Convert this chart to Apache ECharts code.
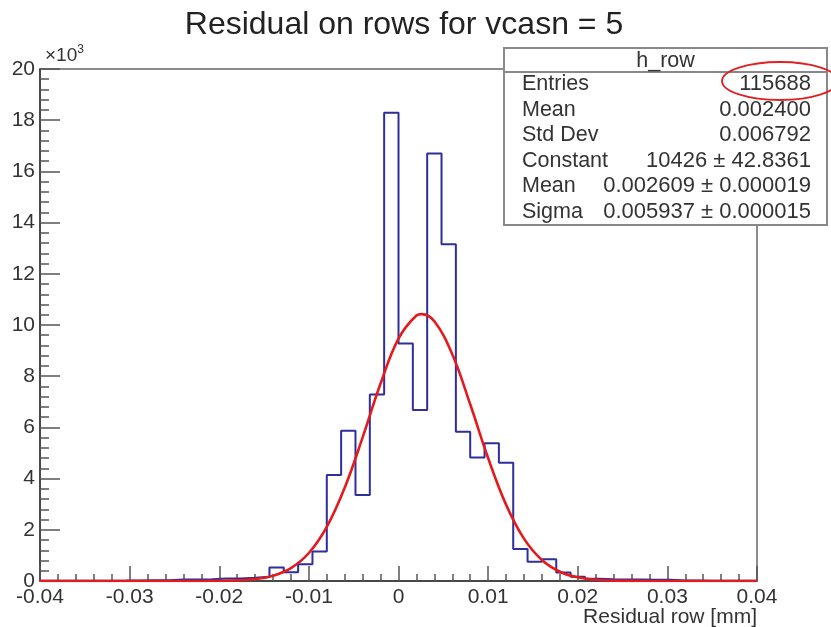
<!DOCTYPE html>
<html>
<head>
<meta charset="utf-8">
<script src="https://cdn.jsdelivr.net/npm/echarts@6/dist/echarts.min.js"></script>
<style>
html,body{margin:0;padding:0;background:#fff;}
#chart{width:831px;height:627px;}
</style>
</head>
<body>
<div id="chart"></div>
<script>
// ---- data ----
const binStart = -0.04;
const binWidth = 0.0016;
const binCounts = [5, 8, 10, 10, 12, 15, 20, 25, 30, 60,
  60, 70, 100, 100, 130, 170, 530, 340, 650, 1150,
  4140, 5870, 3360, 7290, 18290, 9280, 6680, 16700, 13150, 5830,
  4820, 5380, 4620, 1250, 750, 850, 330, 170, 90, 70,
  60, 60, 50, 50, 20, 15, 10, 10, 8, 5];
const fitX = [-0.04, -0.03, -0.024, -0.022, -0.02, -0.018, -0.016, -0.014, -0.012, -0.01,
  -0.008, -0.006, -0.004, -0.002, 0, 0.002, 0.0026, 0.004, 0.006, 0.008,
  0.01, 0.012, 0.014, 0.016, 0.018, 0.02, 0.022, 0.024, 0.026, 0.03, 0.04];
const fitY = [0, 0, 1, 2, 7, 25, 77, 208, 505, 1094,
  2111, 3645, 5611, 7714, 9467, 10371, 10426, 10144, 8857, 6904,
  4803, 2984, 1654, 818, 362, 143, 50, 16, 4, 0, 0];
const xTickLabels = ['-0.04', '-0.03', '-0.02', '-0.01', '0', '0.01', '0.02', '0.03', '0.04'];
const xAxisTitle = 'Residual row [mm]';
const statsTitle = 'h_row';
const statsNames = ['Entries', 'Mean', 'Std Dev', 'Constant', 'Mean', 'Sigma'];
const statsValues = ['115688', '0.002400', '0.006792', '10426 \u00b1 42.8361', '0.002609 \u00b1 0.000019', '0.005937 \u00b1 0.000015'];

// ---- build ----
const histData = binCounts.map((c, k) => [binStart + k * binWidth, c]);
histData.push([binStart + binCounts.length * binWidth, binCounts[binCounts.length - 1]]);
const fitData = fitX.map((x, i) => [x, fitY[i]]);

const FONT = 'Liberation Sans, Arial, sans-serif';
const boxL = 504, boxT = 48, boxW = 323, boxH = 177, rowH = 25.6;
const graphics = [
  { type: 'rect', shape: { x: boxL, y: boxT, width: boxW, height: boxH }, style: { fill: '#fff', stroke: '#888', lineWidth: 2 }, z: 10 },
  { type: 'line', shape: { x1: boxL, y1: boxT + 24, x2: boxL + boxW, y2: boxT + 24 }, style: { stroke: '#888', lineWidth: 2 }, z: 11 },
  { type: 'text', x: boxL + boxW / 2, y: boxT + 13, style: { text: statsTitle, font: '21.5px ' + FONT, fill: '#333', align: 'center', verticalAlign: 'middle' }, z: 11 }
];
statsNames.forEach((n, i) => {
  const cy = boxT + 36 + i * rowH;
  graphics.push({ type: 'text', x: boxL + 18, y: cy, style: { text: n, font: '21.5px ' + FONT, fill: '#333', align: 'left', verticalAlign: 'middle' }, z: 11 });
  graphics.push({ type: 'text', x: boxL + boxW - 16, y: cy, style: { text: statsValues[i], font: '22px ' + FONT, fill: '#333', align: 'right', verticalAlign: 'middle' }, z: 11 });
});
graphics.push({ type: 'ellipse', shape: { cx: 780, cy: 81, rx: 58, ry: 19 }, style: { fill: 'none', stroke: '#e02020', lineWidth: 1.8 }, z: 12 });
graphics.push({ type: 'text', x: 45, y: 56, style: { rich: { a: { fontSize: 19, fontFamily: FONT, fill: '#333' }, s: { fontSize: 12, fontFamily: FONT, fill: '#333', verticalAlign: 'top', padding: [0, 0, 12, 0] } }, text: '{a|\u00d710}{s|3}', verticalAlign: 'middle' }, z: 11 });
graphics.push({ type: 'text', x: 757, y: 617, style: { text: xAxisTitle, font: '21px ' + FONT, fill: '#333', align: 'right', verticalAlign: 'middle' }, z: 11 });

const chart = echarts.init(document.getElementById('chart'));
chart.setOption({
  animation: false,
  backgroundColor: '#fff',
  title: {
    text: 'Residual on rows for vcasn = 5',
    left: 399, top: 4, textAlign: 'center',
    textStyle: { fontFamily: FONT, fontSize: 32, fontWeight: 'normal', color: '#222' }
  },
  grid: { left: 40, right: 74, top: 69, bottom: 46, containLabel: false, outerBoundsMode: 'none', show: true, borderColor: '#666', borderWidth: 1.5, backgroundColor: 'transparent' },
  xAxis: {
    type: 'value', min: -0.04, max: 0.04, interval: 0.01,
    axisLine: { show: true, onZero: false, lineStyle: { color: '#333', width: 1.5 } },
    axisTick: { show: true, inside: true, length: 15, lineStyle: { color: '#555', width: 1.5 } },
    minorTick: { show: true, splitNumber: 5, length: 7, lineStyle: { color: '#555', width: 1.5 } },
    splitLine: { show: false },
    axisLabel: { fontFamily: FONT, fontSize: 21, color: '#333', margin: 6,
      formatter: v => xTickLabels[Math.round((v - (-0.04)) / 0.01)] }
  },
  yAxis: {
    type: 'value', min: 0, max: 20000, interval: 2000,
    axisLine: { show: true, onZero: false, lineStyle: { color: '#333', width: 1.5 } },
    axisTick: { show: true, inside: true, length: 20, lineStyle: { color: '#555', width: 1.5 } },
    minorTick: { show: true, splitNumber: 5, length: 9, lineStyle: { color: '#555', width: 1.5 } },
    splitLine: { show: false },
    axisLabel: { fontFamily: FONT, fontSize: 21, color: '#333', margin: 5, formatter: v => String(v / 1000) }
  },
  series: [
    { type: 'line', data: histData, step: 'end', symbol: 'none', lineStyle: { color: '#2e2e9c', width: 2 }, z: 3 },
    { type: 'line', data: fitData, smooth: 0.4, symbol: 'none', lineStyle: { color: '#e41a1c', width: 2.6 }, z: 4 }
  ],
  graphic: graphics
});
</script>
</body>
</html>
